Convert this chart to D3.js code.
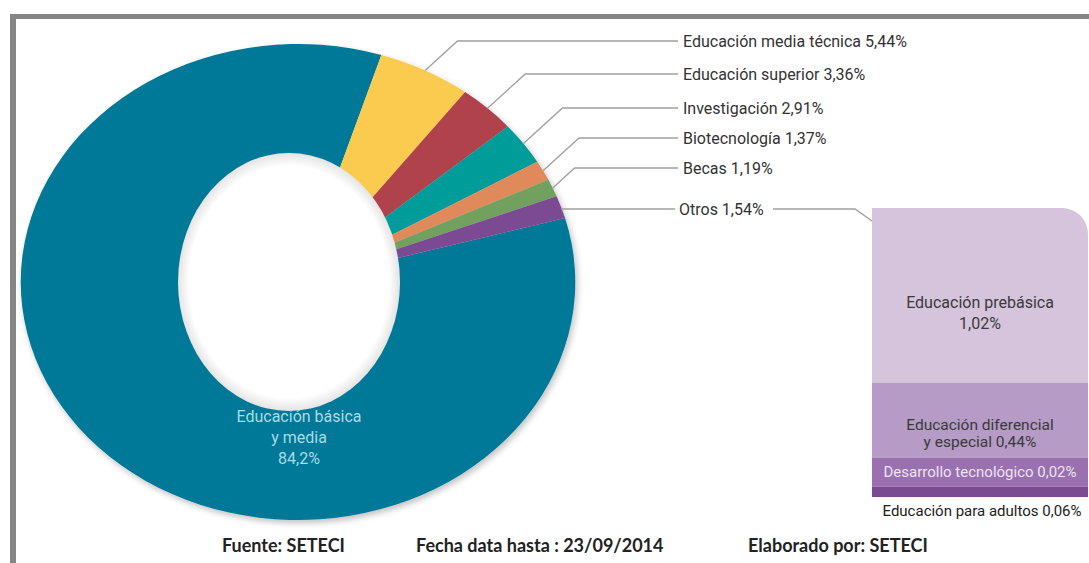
<!DOCTYPE html>
<html><head><meta charset="utf-8">
<script src="https://cdn.jsdelivr.net/npm/d3@7"></script>
<style>
html,body{margin:0;padding:0;background:#fff;}
svg{display:block;}
.lbl{font-family:"Liberation Sans Narrow","Roboto",sans-serif;}
</style></head>
<body>
<svg id="chart" width="1089" height="563"></svg>
<script>
// ---- data ----
const categories = ["Educación básica y media","Educación media técnica","Educación superior","Investigación","Biotecnología","Becas","Otros"];
const values = [84.2, 5.44, 3.36, 2.91, 1.37, 1.19, 1.54];
const valueLabels = ["84,2%","5,44%","3,36%","2,91%","1,37%","1,19%","1,54%"];
const colors = ["#027897","#fbcb4f","#b0424c","#009c9a","#e0895a","#72a05e","#7b4a93"];

const otrosCategories = ["Educación prebásica","Educación diferencial y especial","Desarrollo tecnológico","Educación para adultos"];
const otrosValues = [1.02, 0.44, 0.02, 0.06];
const otrosLabels = ["1,02%","0,44%","0,02%","0,06%"];
const otrosColors = ["#d5c4dc","#b59bc6","#9a70b0","#7b4a93"];

const footer = ["Fuente: SETECI","Fecha data hasta : 23/09/2014","Elaborado por: SETECI"];

// ---- layout ----
const svg = d3.select("#chart");
const W = 1089, H = 563;
const cx = 298, cy = 282, R = 238, sx = 1.165;
const startDeg = 74.4;

// frame
svg.append("line").attr("x1",13).attr("x2",13).attr("y1",14).attr("y2",H).attr("stroke","#858585").attr("stroke-width",6);
svg.append("line").attr("x1",10).attr("x2",W).attr("y1",16.5).attr("y2",16.5).attr("stroke","#858585").attr("stroke-width",5);

const defs = svg.append("defs");
const f = defs.append("filter").attr("id","sh").attr("x","-10%").attr("y","-10%").attr("width","130%").attr("height","130%");
f.append("feGaussianBlur").attr("in","SourceAlpha").attr("stdDeviation",3);
f.append("feOffset").attr("dx",2).attr("dy",3).attr("result","b");
f.append("feComponentTransfer").append("feFuncA").attr("type","linear").attr("slope",0.25);
const fm = f.append("feMerge"); fm.append("feMergeNode"); fm.append("feMergeNode").attr("in","SourceGraphic");

const hg = defs.append("radialGradient").attr("id","hole");
hg.append("stop").attr("offset","0.9").attr("stop-color","#ffffff");
hg.append("stop").attr("offset","1").attr("stop-color","#e4e4e4");

const pie = d3.pie().sort(null).value(d=>d)
  .startAngle(startDeg*Math.PI/180).endAngle(startDeg*Math.PI/180+2*Math.PI);
const arcs = pie(values);
const arc = d3.arc().innerRadius(60).outerRadius(R);

const g = svg.append("g").attr("transform",`translate(${cx},${cy}) scale(${sx},1)`).attr("filter","url(#sh)");
g.selectAll("path").data(arcs).join("path").attr("d",arc).attr("fill",(d,i)=>colors[i]);

// hole
svg.append("ellipse").attr("cx",289).attr("cy",282).attr("rx",111).attr("ry",129).attr("fill","url(#hole)");

// inner label
const inner = svg.append("text").attr("class","lbl").attr("text-anchor","middle").attr("fill","#a9dbe6").attr("font-size",16);
["Educación básica","y media",valueLabels[0]].forEach((t,i)=>{
  inner.append("tspan").attr("x",299).attr("y",422+i*21).text(t);
});

// leader labels
const labelY = [null,41,74,108,138,168,209];
const textX = 683;
for(let i=1;i<values.length;i++){
  const a = (arcs[i].startAngle+arcs[i].endAngle)/2;
  const px = cx + Math.sin(a)*R*sx, py = cy - Math.cos(a)*R;
  const ly = labelY[i];
  let pts;
  if(i===6){ pts=[[px,py],[textX-8,ly]]; pts[0][1]=ly; }
  else { const ex = px + (py-ly)*1.1; pts=[[px,py],[ex,ly],[textX-5,ly]]; }
  svg.append("path").attr("d",d3.line()(pts)).attr("fill","none").attr("stroke","#a0a0a0").attr("stroke-width",1.3);
  svg.append("text").attr("class","lbl").attr("x",textX - (i===6?4:0)).attr("y",ly).attr("dy","0.35em")
    .attr("font-size",16).attr("fill","#333")
    .text(categories[i]+" "+valueLabels[i]);
}

// stacked box for Otros
const boxX = 872, boxW = 216, boxTop = 208, boxH = 289, minBand = 29;
const fixed = otrosValues.map((v,i)=> i===2);
const k = (boxH - minBand) / d3.sum(otrosValues.filter((v,i)=>!fixed[i]));
const y = d3.scaleLinear().domain([0,1]).range([0,k]);
let acc = boxTop;
const bands = otrosValues.map((v,i)=>{ const h = fixed[i]?minBand:y(v); const b={y0:acc,h}; acc+=h; return b;});
const clipR = defs.append("clipPath").attr("id","boxclip");
clipR.append("path").attr("d",(()=>{const r=26,x0=boxX,x1=boxX+boxW,y0=boxTop,y1=boxTop+boxH;
  return `M${x0},${y0} H${x1-r} A${r},${r} 0 0 1 ${x1},${y0+r} V${y1} H${x0} Z`;})());
const bg = svg.append("g").attr("clip-path","url(#boxclip)");
bg.selectAll("rect").data(bands).join("rect").attr("x",boxX).attr("width",boxW)
  .attr("y",d=>d.y0).attr("height",d=>d.h).attr("fill",(d,i)=>otrosColors[i]);

// Otros connector
svg.append("path").attr("d",d3.line()([[773,209],[855,209],[boxX,221]])).attr("fill","none").attr("stroke","#a0a0a0").attr("stroke-width",1.3);

const bcx = 980;
const t0 = svg.append("text").attr("class","lbl").attr("text-anchor","middle").attr("font-size",16).attr("fill","#3a3a3a");
t0.append("tspan").attr("x",bcx).attr("y",308).text(otrosCategories[0]);
t0.append("tspan").attr("x",bcx).attr("y",329).text(otrosLabels[0]);
const t1 = svg.append("text").attr("class","lbl").attr("text-anchor","middle").attr("font-size",15.5).attr("fill","#3a3a3a");
t1.append("tspan").attr("x",bcx).attr("y",430).text("Educación diferencial");
t1.append("tspan").attr("x",bcx).attr("y",447).text("y especial "+otrosLabels[1]);
svg.append("text").attr("class","lbl").attr("text-anchor","middle").attr("font-size",15).attr("fill","#ece4f0")
  .attr("x",bcx).attr("y",bands[2].y0+bands[2].h/2).attr("dy","0.35em").text(otrosCategories[2]+" "+otrosLabels[2]);
svg.append("text").attr("class","lbl").attr("text-anchor","middle").attr("font-size",15).attr("fill","#222")
  .attr("x",982).attr("y",511).attr("dy","0.35em").text(otrosCategories[3]+" "+otrosLabels[3]);

// footer
const fx = [222,416,748];
footer.forEach((t,i)=>{
  svg.append("text").attr("x",fx[i]).attr("y",552).attr("font-family","Lato, sans-serif").attr("font-weight","bold")
    .attr("font-size",18).attr("fill","#222").text(t);
});
</script>
</body></html>
